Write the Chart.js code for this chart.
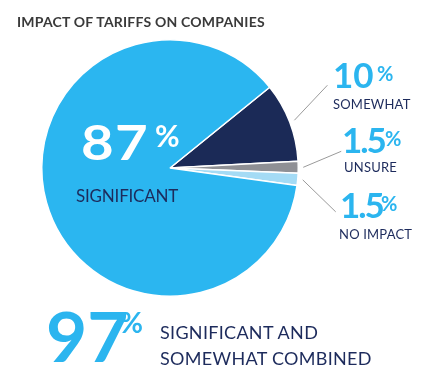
<!DOCTYPE html>
<html>
<head>
<meta charset="utf-8">
<script src="https://cdn.jsdelivr.net/npm/chart.js@4.4.0/dist/chart.umd.min.js"></script>
<style>
    body { margin: 0; background: #fff; font-family: Lato, sans-serif; }
    #wrap { position: relative; width: 436px; height: 366px; overflow: hidden; }
    #wrap canvas { position: absolute; left: 0; top: 0; }
    .txt { position: absolute; line-height: 1; white-space: nowrap; transform-origin: 0 0; }
    .title { left: 17px; top: 15px; font-size: 14px; font-weight: 700; color: #3a3a3a; letter-spacing: 0.2px; }
    .big { font-weight: 700; color: #2bb5ef; }
    .pct { position: absolute; font-weight: 700; line-height: 1; }
    .lbl { color: #1d2b5c; }
</style>
</head>
<body>
<div id="wrap">
    <canvas id="pieChart" width="436" height="366"></canvas>
    <div class="txt title">IMPACT OF TARIFFS ON COMPANIES</div>
</div>
<script>
// Data
const categories = ['SOMEWHAT', 'UNSURE', 'NO IMPACT', 'SIGNIFICANT'];
const shares = [10, 1.5, 1.5, 87];
const combinedShare = 97;
const combinedLabel = ['SIGNIFICANT AND', 'SOMEWHAT COMBINED'];
const colors = ['#1b2a57', '#8f9095', '#a4dbf5', '#2bb6f0'];

// label layout (number box, % box, caption box)
const labelPos = [
    { x: 333, y: 57, size: 35, ls: 0, sx: 1, px: 377, py: 63, psize: 20, lx: 333, ly: 98, lsize: 13, lls: 0.2, color: '#2bb5ef', end: [33, -35] },
    { x: 342, y: 122, size: 35, ls: -2, sx: 1, px: 385, py: 128, psize: 20, lx: 344, ly: 161, lsize: 13, lls: 0.2, color: '#2bb5ef', end: [38, -16] },
    { x: 340, y: 187, size: 35, ls: -2, sx: 1, px: 381, py: 193, psize: 20, lx: 339, ly: 228, lsize: 13, lls: 0.2, color: '#2bb5ef', end: [33, 32] },
    { x: 81, y: 119, size: 47, ls: 1, sx: 1.2, px: 155, py: 120, psize: 30, lx: 76, ly: 187, lsize: 17, lls: -0.2, color: '#ffffff', end: null }
];

const wrap = document.getElementById('wrap');

function addText(text, cls, x, y, size, color, ls, sx) {
    const d = document.createElement('div');
    d.className = 'txt ' + cls;
    d.style.left = x + 'px';
    d.style.top = y + 'px';
    d.style.fontSize = size + 'px';
    if (color) d.style.color = color;
    if (ls) d.style.letterSpacing = ls + 'px';
    if (sx && sx !== 1) d.style.transform = 'scaleX(' + sx + ')';
    d.textContent = text;
    wrap.appendChild(d);
    return d;
}

categories.forEach((cat, i) => {
    const p = labelPos[i];
    addText(String(shares[i]), 'big', p.x, p.y, p.size, p.color, p.ls, p.sx);
    addText('%', 'pct', p.px, p.py, p.psize, p.color);
    addText(cat, 'lbl', p.lx, p.ly, p.lsize, null, p.lls);
});

addText(String(combinedShare), 'big', 46, 301, 69, '#2bb5ef', 0, 1.03);
addText('%', 'pct', 120, 308, 28, '#2bb5ef');
addText(combinedLabel[0], 'lbl', 160, 323, 18, null, 0.3);
addText(combinedLabel[1], 'lbl', 160, 349, 18, null, 0.3);

// leader lines from slice mid-angle to label
const leaderLines = {
    id: 'leaderLines',
    afterDatasetsDraw(chart) {
        const ctx = chart.ctx;
        const arcs = chart.getDatasetMeta(0).data;
        ctx.save();
        ctx.strokeStyle = '#9a9a9a';
        ctx.lineWidth = 1;
        arcs.forEach((arc, i) => {
            const p = labelPos[i];
            if (!p.end) return;
            const mid = (arc.startAngle + arc.endAngle) / 2;
            const r = arc.outerRadius + 5;
            const sx = arc.x + Math.cos(mid) * r;
            const sy = arc.y + Math.sin(mid) * r;
            ctx.beginPath();
            ctx.moveTo(sx, sy);
            ctx.lineTo(sx + p.end[0], sy + p.end[1]);
            ctx.stroke();
        });
        ctx.restore();
    }
};

new Chart(document.getElementById('pieChart').getContext('2d'), {
    type: 'pie',
    data: {
        labels: categories,
        datasets: [{
            data: shares,
            backgroundColor: colors,
            borderColor: '#ffffff',
            borderWidth: 1.5
        }]
    },
    options: {
        responsive: false,
        animation: false,
        rotation: 51,
        layout: { padding: { left: 41, top: 39, right: 137, bottom: 69 } },
        plugins: {
            legend: { display: false },
            tooltip: { enabled: false }
        }
    },
    plugins: [leaderLines]
});
</script>
</body>
</html>
